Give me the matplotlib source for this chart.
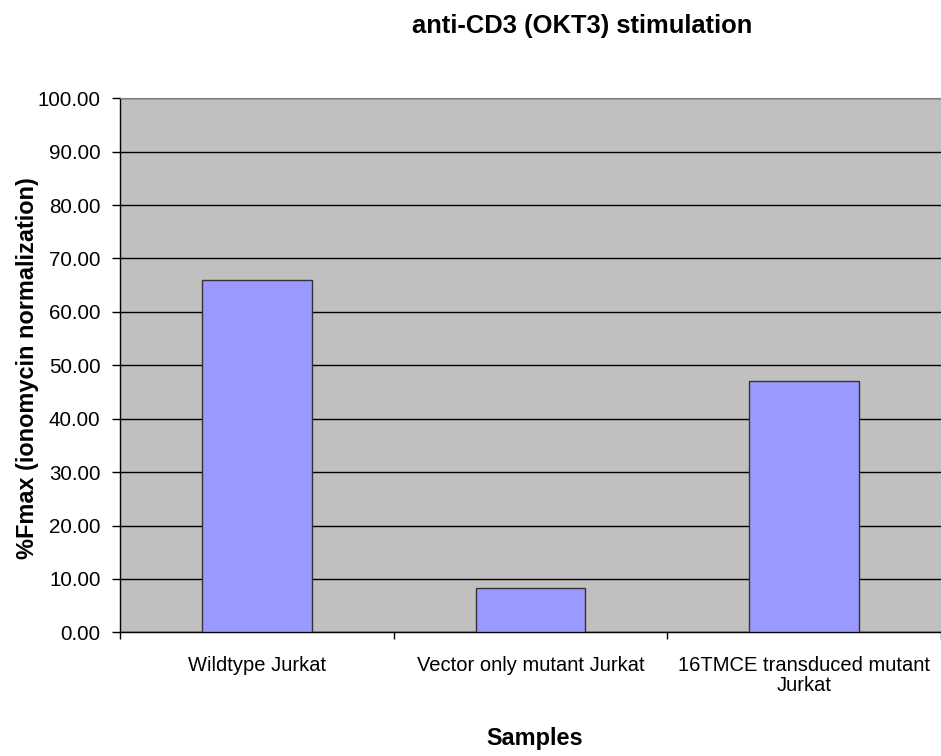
import matplotlib
matplotlib.use("Agg")
import matplotlib.pyplot as plt
import numpy as np

plt.rcParams['font.family'] = ['Liberation Sans', 'DejaVu Sans']

# 样本与数值
samples = ["Wildtype Jurkat", "Vector only mutant Jurkat", "16TMCE transduced mutant\nJurkat"]
fmax_pct = [65.9, 8.35, 47.1]
y_ticks = [0, 10, 20, 30, 40, 50, 60, 70, 80, 90, 100]

fig = plt.figure(figsize=(9.41, 7.56), dpi=100)
ax = fig.add_axes([0.1275, 0.1636, 0.8725, 0.7064])
ax.set_facecolor('#C0C0C0')

x = np.arange(len(samples))
ax.bar(x, fmax_pct, width=0.4, color='#9999FF', edgecolor='#333333', linewidth=1.0, zorder=3)

ax.set_xlim(-0.5, len(samples) - 0.5)
ax.set_ylim(0, 100)
ax.set_yticks(y_ticks)
ax.set_yticklabels([f"{v:.2f}" for v in y_ticks], fontsize=14.8)
ax.yaxis.grid(True, color='black', linewidth=1.0, zorder=1)
ax.set_axisbelow(True)

# 类别刻度在边界处，标签居中
ax.set_xticks(np.arange(len(samples) + 1) - 0.5)
ax.set_xticklabels([])
ax.set_xticks(x, minor=True)
ax.set_xticklabels(samples, minor=True, fontsize=14.5, linespacing=1.05)
ax.tick_params(axis='x', which='minor', length=0, pad=17)
ax.tick_params(axis='x', which='major', length=5, direction='out', width=1)
ax.tick_params(axis='y', length=6, direction='out', width=1, pad=8)

for side in ['left', 'bottom']:
    ax.spines[side].set_color('black')
    ax.spines[side].set_linewidth(1.0)
ax.spines['top'].set_color('#808080')
ax.spines['right'].set_visible(False)

fig.text(0.0287, 0.5132, "%Fmax (ionomycin normalization)", rotation=90, ha='center', va='center',
         fontsize=16.9, fontweight='bold')
fig.text(0.568, 0.0225, "Samples", ha='center', va='center', fontsize=16.9, fontweight='bold')
fig.text(0.6185, 0.966, "anti-CD3 (OKT3) stimulation", ha='center', va='center', fontsize=18.4, fontweight='bold')

fig.savefig("out.png", dpi=100)
